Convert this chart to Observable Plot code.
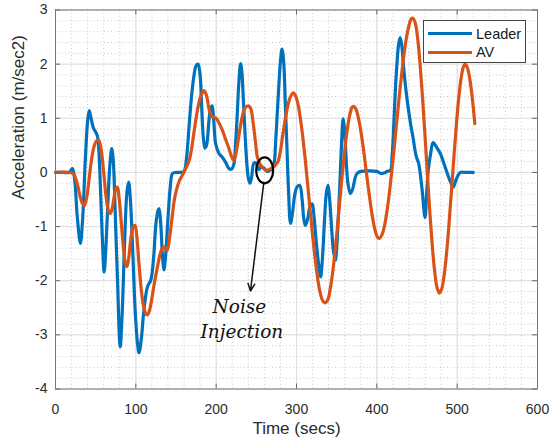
<!DOCTYPE html>
<html>
<head>
<meta charset="utf-8">
<script src="https://cdn.jsdelivr.net/npm/d3@7"></script>
<script src="https://cdn.jsdelivr.net/npm/@observablehq/plot@0.6"></script>
<style>
  body { margin: 0; background: #fff; }
  #wrap { position: relative; width: 552px; height: 440px; }
  #legend { position: absolute; left: 423px; top: 20px; width: 101px; height: 41px;
    border: 1px solid #444; background: #fff; font-family: "Liberation Sans", Arial, sans-serif;
    font-size: 14.5px; color: #1a1a1a; }
  .row { position: absolute; left: 4px; height: 18px; display: flex; align-items: center; }
  .row span.sw { display: inline-block; width: 44px; height: 3px; margin-right: 4px; }
</style>
</head>
<body>
<div id="wrap"></div>
<script>
// ---- data ----
const xTicks = [0, 100, 200, 300, 400, 500, 600];
const yTicks = [-4, -3, -2, -1, 0, 1, 2, 3];
const seriesNames = ["Leader", "AV"];
const seriesColors = ["#0072BD", "#D95319"];

const leaderT = [0,10,17,21,24,27,31,34,37,40,42,44,47,52,54,56,58,60.6,63,66,68,70,72,74,77,80.5,83,86,89,91,93,96,99,102,104,107,110,114.5,118.6,122,125,127.7,129,131,133,135,137,140,143,145.6,150,155,160,163,166,169,172,175,177.5,180,182,184,186,188,191,193,195,197,199.4,203.5,207.7,212,216,219,222,224,226,228,230.4,232,234,236,238,240,242,244,247,250,253,256,259,263,266,269,272,274,276,278,280,282,284,286,288,290,292.5,295,298,301,304,307,309,311,314,317,319.5,322,325,328,330,332,335,337,339,341,344,346,348.4,350,352,354,356,358,360,362,364,367,370,373,375.4,380,390,400,405,409,413,417,419,421,423,425,427,429,431,433,436,439,442,445,449,452,456,460,462,464,467,470,475,479,485,491,495,499,504,510,520];
const leaderA = [0,0,0,0.07,-0.15,-0.8,-1.31,-0.8,0.2,0.95,1.14,1.02,0.83,0.68,0.4,-0.3,-1.1,-1.84,-1.3,-0.3,0.2,0.44,0.2,-0.6,-1.9,-3.22,-2.6,-1.3,-0.35,-0.18,-0.45,-1.4,-2.5,-3.15,-3.33,-3.05,-2.55,-2.11,-1.99,-1.6,-0.95,-0.7,-0.67,-0.95,-1.5,-1.8,-1.55,-0.85,-0.25,-0.02,0,0,0.02,0.25,0.8,1.35,1.75,1.97,2.0,1.8,1.2,0.65,0.45,0.5,0.95,1.18,1.23,0.95,0.53,0.35,0.28,0.18,0.07,0.06,0.15,0.5,1.0,1.6,2.01,1.85,1.3,0.7,0.2,-0.1,-0.2,-0.1,0.17,0.17,0.05,0.1,0.09,0.02,0.03,0.06,0.16,0.55,1.08,1.6,2.05,2.28,2.05,1.3,0.5,-0.3,-0.94,-0.75,-0.4,-0.26,-0.24,-0.5,-0.85,-0.98,-0.85,-0.62,-0.58,-0.85,-1.35,-1.75,-1.93,-1.65,-0.85,-0.4,-0.24,-0.45,-1.1,-1.45,-1.62,-1.4,-0.85,-0.2,0.5,0.99,0.75,0.2,-0.2,-0.39,-0.3,-0.1,-0.02,0.02,0.03,0.02,-0.02,-0.01,0.02,0.04,0.3,0.85,1.5,2.0,2.35,2.49,2.35,2.0,1.55,1.2,0.9,0.65,0.3,0.17,-0.27,-0.83,-0.4,0.04,0.35,0.55,0.45,0.35,0.1,-0.15,-0.27,-0.12,0,0,0];

const avT = [0,18,22,26,30,33,36,39,42,45,48,51,54,57,60,63,66,68,70,73,75,77,79,82,85,87,89,91,94,97,99,101,104,107,110,113,114.5,117,119,123,127,130,133,136,139,142,145,148,151,154,158,162,166,169,172,175,178,181,185,188,191,194,197,200,204,208,212,216,219,222,225,228,231,234,237,240,243,246,249,251,254,257,260,263,267,271,274,277,280,283,286,289,292,296,299,302,305,308,311,314,317,320,323,326,329,332,335,339,342,345,348,351,354,357,360,363,366,369,371,374,377,380,383,386,389,392,395,398,401,403,407,410,413,416,419,422,425,428,431,434,437,440,443,445,448,451,454,457,460,463,466,469,472,475,478,481,484,487,490,493,496,499,502,505,508,510,513,516,519,522];
const avA = [0,0,-0.02,-0.15,-0.4,-0.56,-0.61,-0.45,-0.1,0.25,0.48,0.58,0.59,0.4,0.0,-0.45,-0.72,-0.76,-0.7,-0.45,-0.3,-0.27,-0.45,-0.95,-1.45,-1.68,-1.74,-1.6,-1.2,-1.0,-0.98,-1.15,-1.7,-2.2,-2.5,-2.62,-2.63,-2.55,-2.41,-2.05,-1.74,-1.52,-1.4,-1.38,-1.44,-1.2,-0.85,-0.5,-0.3,-0.16,-0.05,0.07,0.2,0.4,0.7,1.0,1.25,1.42,1.51,1.42,1.18,1.04,1.02,1.0,0.9,0.77,0.6,0.44,0.3,0.22,0.38,0.65,0.92,1.12,1.21,1.23,1.18,0.92,0.55,0.3,0.17,0.1,0.06,0.04,0.06,0.1,0.14,0.2,0.4,0.7,0.98,1.22,1.38,1.47,1.41,1.25,0.98,0.63,0.22,-0.24,-0.7,-1.16,-1.57,-1.92,-2.19,-2.35,-2.41,-2.35,-2.15,-1.85,-1.45,-1.0,-0.51,-0.03,0.4,0.77,1.04,1.2,1.22,1.17,1.01,0.77,0.47,0.12,-0.24,-0.57,-0.86,-1.08,-1.2,-1.22,-1.13,-0.95,-0.68,-0.33,0.07,0.51,0.97,1.42,1.83,2.2,2.5,2.71,2.84,2.85,2.75,2.45,1.97,1.36,0.67,-0.05,-0.74,-1.35,-1.83,-2.13,-2.23,-2.14,-1.87,-1.46,-0.92,-0.32,0.3,0.88,1.38,1.75,1.96,2.0,1.92,1.7,1.35,0.9];

// annotation
const noteLabels = ["Noise", "Injection"];
const noteT = [229, 232];
const noteA = [-2.49, -2.95];
const ringT = 261, ringA = 0.03;           // noise-injection ring centre
const arrowFrom = [259, -0.22], arrowTo = [242.7, -2.19];

// ---- build ----
const leader = leaderT.map((t, i) => ({t, a: leaderA[i]}));
const av = avT.map((t, i) => ({t, a: avA[i]}));
const notes = noteLabels.map((s, i) => ({s, t: noteT[i], a: noteA[i]}));

const font = "'Liberation Sans', Arial, Helvetica, sans-serif";
const chart = Plot.plot({
  width: 552, height: 440,
  marginLeft: 55, marginRight: 15, marginTop: 9.5, marginBottom: 51.5,
  style: {fontFamily: font, background: "#fff", color: "#2b2b2b"},
  x: {domain: [0, 600]},
  y: {domain: [-4, 3]},
  marks: [
    Plot.gridX({ticks: 30, stroke: "#c9c9c9", strokeOpacity: 1, strokeDasharray: "1,2.5"}),
    Plot.gridY({ticks: 35, stroke: "#c9c9c9", strokeOpacity: 1, strokeDasharray: "1,2.5"}),
    Plot.gridX(xTicks, {stroke: "#dedede", strokeOpacity: 1}),
    Plot.gridY(yTicks, {stroke: "#dedede", strokeOpacity: 1}),
    Plot.line(leader, {x: "t", y: "a", stroke: seriesColors[0], strokeWidth: 3.2, curve: "catmull-rom"}),
    Plot.line(av, {x: "t", y: "a", stroke: seriesColors[1], strokeWidth: 3.2, curve: "catmull-rom"}),
    // inward ticks
    Plot.tickX(xTicks, {x: d => d, stroke: "#666", insetTop: 374}),
    Plot.tickX(xTicks, {x: d => d, stroke: "#666", insetBottom: 374}),
    Plot.tickY(yTicks, {y: d => d, stroke: "#666", insetRight: 477}),
    Plot.tickY(yTicks, {y: d => d, stroke: "#666", insetLeft: 477}),
    Plot.frame({stroke: "#777"}),
    Plot.axisX(xTicks, {tickSize: 0, tickPadding: 15.5, fontSize: 14, label: null, tickFormat: d => String(d)}),
    Plot.axisY(yTicks, {tickSize: 0, tickPadding: 8, fontSize: 14, label: null, tickFormat: d => String(d)}),
    Plot.text(["Time (secs)"], {frameAnchor: "bottom", dy: 45, fontSize: 17, fill: "#2b2b2b"}),
    Plot.text(["Acceleration (m/sec2)"], {frameAnchor: "left", dx: -37, rotate: -90, fontSize: 17, fill: "#2b2b2b"}),
    Plot.arrow([0], {x1: () => arrowFrom[0], y1: () => arrowFrom[1], x2: () => arrowTo[0], y2: () => arrowTo[1],
      stroke: "#111", strokeWidth: 1.5, headLength: 8, headAngle: 50}),
    Plot.text(notes, {x: "t", y: "a", text: "s", fontFamily: "'DejaVu Serif', serif", fontStyle: "italic",
      fontSize: 18.5, fill: "#111"})
  ]
});

const wrap = document.getElementById("wrap");
wrap.appendChild(chart);

// ring around the noise injection point, positioned with the plot's own scales
const sx = chart.scale("x"), sy = chart.scale("y");
d3.select(chart).append("ellipse")
  .attr("cx", sx.apply(ringT)).attr("cy", sy.apply(ringA))
  .attr("rx", 8.5).attr("ry", 13)
  .attr("fill", "none").attr("stroke", "#000").attr("stroke-width", 2.2);

// legend
const lg = document.createElement("div");
lg.id = "legend";
seriesNames.forEach((n, i) => {
  const r = document.createElement("div");
  r.className = "row";
  r.style.top = (i === 0 ? 3.5 : 22) + "px";
  r.innerHTML = `<span class="sw" style="background:${seriesColors[i]}"></span><span>${n}</span>`;
  lg.appendChild(r);
});
wrap.appendChild(lg);
</script>
</body>
</html>
